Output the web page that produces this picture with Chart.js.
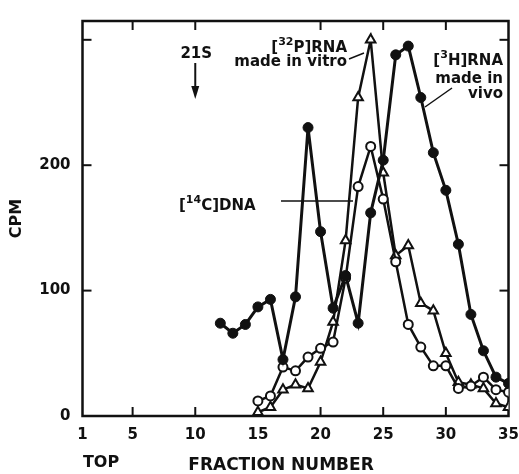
<!DOCTYPE html>
<html>
<head>
<meta charset="utf-8">
<script src="https://cdn.jsdelivr.net/npm/chart.js@4/dist/chart.umd.min.js"></script>
<style>
  html, body { margin: 0; padding: 0; background: #fff; }
  #wrap { width: 519px; height: 474px; }
</style>
</head>
<body>
<div id="wrap"><canvas id="gradientChart" width="519" height="474"></canvas></div>
<script>
// fraction numbers for each series
const fractionsH3 = [12, 13, 14, 15, 16, 17, 18, 19, 20, 21, 22, 23, 24, 25, 26, 27, 28, 29, 30, 31, 32, 33, 34, 35];
const fractionsC14 = [15, 16, 17, 18, 19, 20, 21, 22, 23, 24, 25, 26, 27, 28, 29, 30, 31, 32, 33, 34, 35];
const fractionsP32 = [15, 16, 17, 18, 19, 20, 21, 22, 23, 24, 25, 26, 27, 28, 29, 30, 31, 32, 33, 34, 35];

// CPM values
const rnaInVivo = [74, 66, 73, 87, 93, 45, 95, 230, 147, 86, 112, 74, 162, 204, 288, 295, 254, 210, 180, 137, 81, 52, 31, 26];
const dnaC14 = [12, 16, 39, 36, 47, 54, 59, 110, 183, 215, 173, 123, 73, 55, 40, 40, 22, 24, 31, 21, 19];
const rnaInVitro = [3, 7, 21, 25, 22, 43, 75, 140, 254, 300, 194, 128, 136, 90, 84, 50, 27, 25, 22, 10, 7];

// axis ticks
const xTickLabels = [1, 5, 10, 15, 20, 25, 30, 35];
const xTickMarks = [5, 10, 20, 25, 30];
const yTickLabels = [0, 100, 200];
const yTickMarks = [100, 200, 300];

const INK = '#111';
const FONT = '"DejaVu Sans", sans-serif';

const toPoints = (xs, ys) => xs.map((x, i) => ({ x: x, y: ys[i] }));

// text with superscript parts, e.g. [14C]DNA
function richText(ctx, parts, x, y, align) {
    let total = 0;
    parts.forEach(p => {
        ctx.font = 'bold ' + (p.sup ? 11 : 15) + 'px ' + FONT;
        p.w = ctx.measureText(p.t).width;
        total += p.w;
    });
    let cx = align === 'right' ? x - total : x;
    parts.forEach(p => {
        ctx.font = 'bold ' + (p.sup ? 11 : 15) + 'px ' + FONT;
        ctx.fillText(p.t, cx, p.sup ? y - 7 : y);
        cx += p.w;
    });
}

function line(ctx, x1, y1, x2, y2) {
    ctx.beginPath();
    ctx.moveTo(x1, y1);
    ctx.lineTo(x2, y2);
    ctx.stroke();
}

const frame = {
    id: 'frame',
    beforeDatasetsDraw(chart) {
        const { ctx, chartArea: a, scales: { x, y } } = chart;
        ctx.save();
        ctx.strokeStyle = INK;
        ctx.lineWidth = 2.5;
        ctx.strokeRect(a.left, a.top, a.right - a.left, a.bottom - a.top);
        ctx.lineWidth = 2;
        xTickMarks.forEach(v => {
            const px = x.getPixelForValue(v);
            line(ctx, px, a.bottom, px, a.bottom - 9);
            line(ctx, px, a.top, px, a.top + 9);
        });
        yTickMarks.forEach(v => {
            const py = y.getPixelForValue(v);
            line(ctx, a.left, py, a.left + 9, py);
            line(ctx, a.right, py, a.right - 9, py);
        });
        ctx.restore();
    }
};

const labels = {
    id: 'labels',
    afterDatasetsDraw(chart) {
        const { ctx, scales: { x } } = chart;
        ctx.save();
        ctx.fillStyle = INK;
        ctx.strokeStyle = INK;
        ctx.textBaseline = 'alphabetic';

        // 21S marker
        const x21 = x.getPixelForValue(10);
        ctx.font = 'bold 15px ' + FONT;
        ctx.textAlign = 'center';
        ctx.fillText('21S', x21 + 1, 58);
        ctx.textAlign = 'left';
        ctx.lineWidth = 2;
        line(ctx, x21, 63, x21, 90);
        ctx.beginPath();
        ctx.moveTo(x21 - 4, 86);
        ctx.lineTo(x21 + 4, 86);
        ctx.lineTo(x21, 99);
        ctx.closePath();
        ctx.fill();

        // [32P]RNA made in vitro
        richText(ctx, [{ t: '[' }, { t: '32', sup: true }, { t: 'P]RNA' }], 347, 52, 'right');
        richText(ctx, [{ t: 'made in vitro' }], 347, 66, 'right');
        ctx.lineWidth = 1.5;
        line(ctx, 349, 59, 364, 53);

        // [3H]RNA made in vivo
        richText(ctx, [{ t: '[' }, { t: '3', sup: true }, { t: 'H]RNA' }], 503, 65, 'right');
        richText(ctx, [{ t: 'made in' }], 503, 83, 'right');
        richText(ctx, [{ t: 'vivo' }], 503, 98, 'right');
        line(ctx, 452, 88, 425, 107);

        // [14C]DNA
        richText(ctx, [{ t: '[' }, { t: '14', sup: true }, { t: 'C]DNA' }], 179, 210, 'left');
        line(ctx, 281, 201, 353, 201);

        // bottom labels
        ctx.font = 'bold 16px ' + FONT;
        ctx.textAlign = 'center';
        ctx.fillText('TOP', 101, 467);
        ctx.font = 'bold 17px ' + FONT;
        ctx.fillText('FRACTION NUMBER', 281, 470);
        ctx.restore();
    }
};

const ctx = document.getElementById('gradientChart').getContext('2d');
const gradientChart = new Chart(ctx, {
    type: 'line',
    data: {
        datasets: [
            {
                label: '[3H]RNA made in vivo',
                data: toPoints(fractionsH3, rnaInVivo),
                borderColor: INK,
                backgroundColor: INK,
                borderWidth: 3,
                pointStyle: 'circle',
                pointRadius: 5,
                pointBorderWidth: 1,
                pointBackgroundColor: INK
            },
            {
                label: '[14C]DNA',
                data: toPoints(fractionsC14, dnaC14),
                borderColor: INK,
                backgroundColor: '#fff',
                borderWidth: 2.5,
                pointStyle: 'circle',
                pointRadius: 4.5,
                pointBorderWidth: 2,
                pointBackgroundColor: '#fff'
            },
            {
                label: '[32P]RNA made in vitro',
                data: toPoints(fractionsP32, rnaInVitro),
                borderColor: INK,
                backgroundColor: '#fff',
                borderWidth: 2.5,
                pointStyle: 'triangle',
                pointRadius: 5.5,
                pointBorderWidth: 2,
                pointBackgroundColor: '#fff'
            }
        ]
    },
    options: {
        responsive: false,
        animation: false,
        devicePixelRatio: 1,
        layout: { padding: { top: 14, left: 0, right: 0, bottom: 0 } },
        plugins: {
            legend: { display: false },
            tooltip: { enabled: false }
        },
        scales: {
            x: {
                type: 'linear',
                min: 1,
                max: 35,
                grid: { display: false, drawTicks: false },
                border: { display: false },
                ticks: {
                    color: INK,
                    font: { family: FONT, size: 15, weight: 'bold' },
                    padding: 10,
                    autoSkip: false,
                    maxRotation: 0
                },
                afterBuildTicks: s => { s.ticks = xTickLabels.map(v => ({ value: v })); },
                afterFit: s => { s.height = 58; s.paddingRight = 10.5; }
            },
            y: {
                min: 0,
                max: 315,
                grid: { display: false, drawTicks: false },
                border: { display: false },
                ticks: {
                    color: INK,
                    font: { family: FONT, size: 15, weight: 'bold' },
                    padding: 12
                },
                title: {
                    display: true,
                    text: 'CPM',
                    color: INK,
                    font: { family: FONT, size: 16, weight: 'bold' },
                    padding: { top: 7, bottom: 0 }
                },
                afterBuildTicks: s => { s.ticks = yTickLabels.map(v => ({ value: v })); },
                afterFit: s => { s.width = 82.5; }
            }
        }
    },
    plugins: [frame, labels]
});
</script>
</body>
</html>
